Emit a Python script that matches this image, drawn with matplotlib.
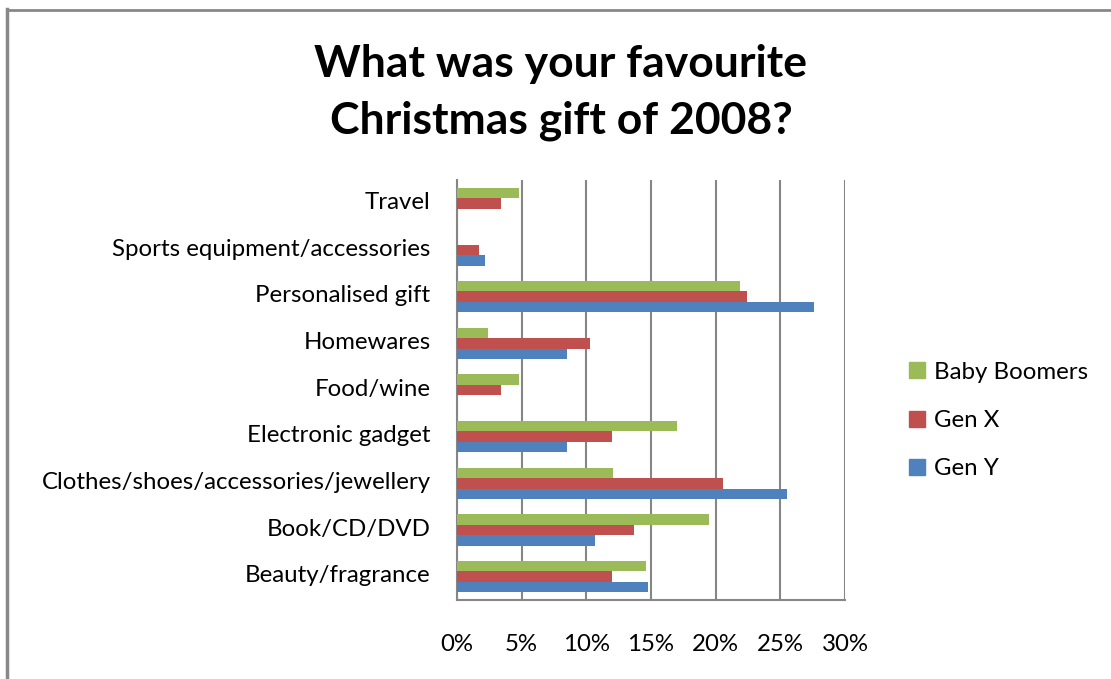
import matplotlib
matplotlib.use("Agg")
import matplotlib.pyplot as plt
import numpy as np
from matplotlib.lines import Line2D
from matplotlib.transforms import ScaledTranslation

categories = ["Beauty/fragrance", "Book/CD/DVD", "Clothes/shoes/accessories/jewellery",
              "Electronic gadget", "Food/wine", "Homewares", "Personalised gift",
              "Sports equipment/accessories", "Travel"]
gen_y = [14.8, 10.7, 25.5, 8.5, 0.0, 8.5, 27.6, 2.2, 0.0]
gen_x = [12.0, 13.7, 20.6, 12.0, 3.4, 10.3, 22.4, 1.7, 3.4]
boomers = [14.6, 19.5, 12.1, 17.0, 4.8, 2.4, 21.9, 0.0, 4.8]
xticks = [0, 5, 10, 15, 20, 25, 30]
title = "What was your favourite\nChristmas gift of 2008?"

colors = {"Gen Y": "#4F81BD", "Gen X": "#C0504D", "Baby Boomers": "#9BBB59"}
plt.rcParams['font.family'] = ["Lato", 'DejaVu Sans']
FS = 17.3

fig = plt.figure(figsize=(11.11, 6.79), dpi=100)
ax = fig.add_axes([457/1111, 1-600/679, (845-457)/1111, (600-180)/679])

y = np.arange(len(categories))
h = 1/4.5
for off, name, vals in [(-h, "Gen Y", gen_y), (0, "Gen X", gen_x), (h, "Baby Boomers", boomers)]:
    ax.barh(y + off, vals, height=h, color=colors[name], linewidth=0, label=name, zorder=3)
ax.set_ylim(-0.5, len(categories) - 0.5)
ax.set_xlim(0, 30)
ax.set_xticks(xticks)
ax.set_xticklabels([f"{t}%" for t in xticks], fontsize=FS)
ax.set_yticks(y)
ax.set_yticklabels(categories, fontsize=FS)
ax.tick_params(axis='x', length=0, pad=24.5)
ax.tick_params(axis='y', length=0, pad=19)
shift = ScaledTranslation(0, 2/72, fig.dpi_scale_trans)
for lab in ax.get_yticklabels():
    lab.set_transform(lab.get_transform() + shift)
ax.grid(axis='x', color="#868686", linewidth=1.5, zorder=0)
for s in ["top", "right"]:
    ax.spines[s].set_visible(False)
for s in ["left", "bottom"]:
    ax.spines[s].set_color("#868686")
    ax.spines[s].set_linewidth(1.5)

legend_handles = [plt.Rectangle((0, 0), 1, 1, color=colors[n]) for n in ["Baby Boomers", "Gen X", "Gen Y"]]
fig.legend(legend_handles, ["Baby Boomers", "Gen X", "Gen Y"], loc="center left",
           bbox_to_anchor=(909/1111, 1-420.5/679), frameon=False, fontsize=FS,
           handlelength=0.65, handleheight=0.65, handletextpad=0.4, labelspacing=1.14,
           borderpad=0, borderaxespad=0)

fig.text(561/1111, 1-92.5/679, title, ha="center", va="center", fontsize=32,
         fontweight="bold", linespacing=1.52)

# chart frame
fig.add_artist(Line2D([7/1111, 7/1111], [0, 1-9/679], color="#888888", linewidth=2.5, transform=fig.transFigure))
fig.add_artist(Line2D([7/1111, 1], [1-9.5/679, 1-9.5/679], color="#888888", linewidth=2.0, transform=fig.transFigure))

fig.savefig("out.png", dpi=100)
